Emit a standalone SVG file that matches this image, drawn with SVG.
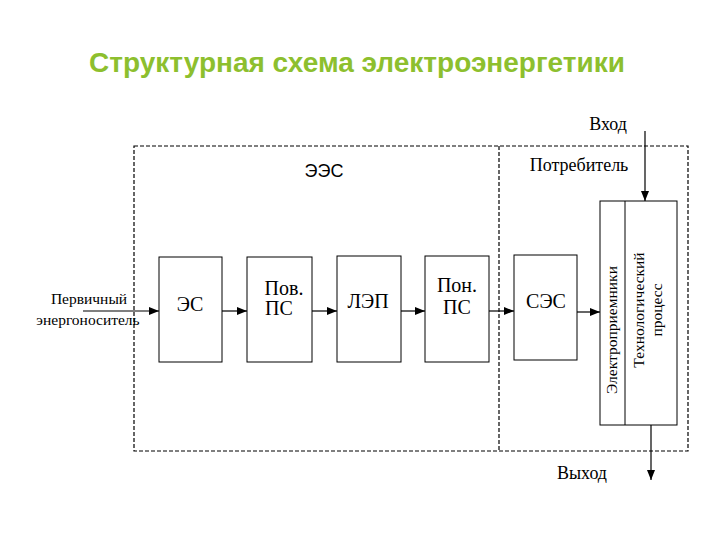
<svg xmlns="http://www.w3.org/2000/svg" width="720" height="540" viewBox="0 0 720 540">
<defs>
<marker id="ah" markerWidth="10" markerHeight="8" refX="10" refY="4" orient="auto" markerUnits="userSpaceOnUse">
<path d="M0,0 L10,4 L0,8 Z" fill="#000"/>
</marker>
<style>
.box{fill:#fff;stroke:#000;stroke-width:1}
.dash{fill:none;stroke:#000;stroke-width:1.2;stroke-dasharray:4,2}
.ln{stroke:#000;stroke-width:1.2;fill:none;marker-end:url(#ah)}
.t{font-family:"Liberation Serif",serif;font-size:15.5px;fill:#000;text-anchor:middle}
.b{font-family:"Liberation Serif",serif;font-size:20px;fill:#000;text-anchor:middle}
.r{font-family:"Liberation Serif",serif;font-size:18px;fill:#000;text-anchor:middle}
.title{font-family:"Liberation Sans",Arial,sans-serif;font-size:28px;font-weight:bold;fill:#8DBF2E;text-anchor:middle}
</style>
</defs>
<rect width="720" height="540" fill="#fff"/>
<text class="title" x="357" y="72">Структурная схема электроэнергетики</text>
<g id="frames">
<rect class="dash" x="134" y="146" width="554" height="305"/>
<line class="dash" x1="499" y1="146" x2="499" y2="451"/>
<text x="324" y="177" style="font-family:'Liberation Sans',sans-serif;font-size:18px;text-anchor:middle">ЭЭС</text>
<text class="r" x="579" y="171">Потребитель</text>
</g>
<g id="es"><rect class="box" x="159" y="257" width="63" height="105"/><text class="b" x="190" y="311">ЭС</text></g>
<g id="povps"><rect class="box" x="247" y="257" width="65" height="105"/><text class="b" x="284" y="295">Пов.</text><text class="b" x="279" y="315">ПС</text></g>
<g id="lep"><rect class="box" x="337" y="256" width="64" height="106"/><text class="b" x="368" y="308">ЛЭП</text></g>
<g id="ponps"><rect class="box" x="425" y="256" width="64" height="106"/><text class="b" x="457" y="292">Пон.</text><text class="b" x="457" y="314">ПС</text></g>
<g id="ses"><rect class="box" x="514" y="255" width="63" height="105"/><text class="b" x="546" y="308">СЭС</text></g>
<g id="consumer">
<rect class="box" x="600" y="201" width="77" height="224"/>
<line x1="625" y1="201" x2="625" y2="425" stroke="#000" stroke-width="1"/>
<text class="t" transform="translate(617,330) rotate(-90)">Электроприемники</text>
<text class="t" transform="translate(644,310) rotate(-90)">Технологический</text>
<text class="t" transform="translate(662,310) rotate(-90)">процесс</text>
</g>
<g id="labels">
<text class="t" x="89" y="304">Первичный</text>
<text class="t" x="88" y="325">энергоноситель</text>
<text class="r" x="608" y="130">Вход</text>
<text class="r" x="582" y="479">Выход</text>
</g>
<g id="connectors">
<line class="ln" x1="83" y1="311" x2="159" y2="311"/>
<line class="ln" x1="222" y1="311" x2="247" y2="311"/>
<line class="ln" x1="312" y1="311" x2="337" y2="311"/>
<line class="ln" x1="401" y1="311" x2="425" y2="311"/>
<line class="ln" x1="489" y1="311" x2="514" y2="311"/>
<line class="ln" x1="577" y1="312" x2="600" y2="312"/>
<line class="ln" x1="645" y1="131" x2="645" y2="201"/>
<line class="ln" x1="651" y1="425" x2="651" y2="480"/>
</g>
</svg>
